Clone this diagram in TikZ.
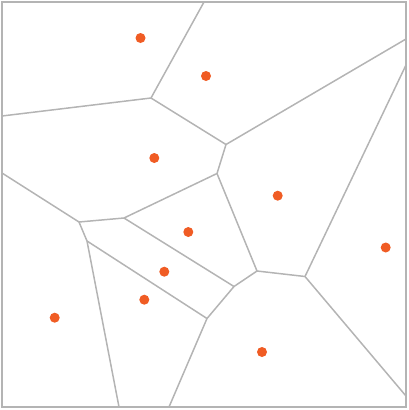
\documentclass[tikz,border=0pt]{standalone}
\definecolor{siteorange}{RGB}{240,92,36}
\definecolor{edgegray}{RGB}{180,180,180}
\begin{document}
\begin{tikzpicture}[x=1pt,y=-1pt,
  edge/.style={draw=edgegray,line width=1.5pt,line join=round},
  frame/.style={draw=edgegray,line width=2pt},
  site/.style={circle,fill=siteorange,inner sep=0pt,minimum size=10pt}]
\useasboundingbox (0,0) rectangle (408,410);
% frame corners
\coordinate (TL) at (2,2); \coordinate (BR) at (406,407);
% Voronoi vertices
\coordinate (V1) at (151,98);
\coordinate (V2) at (226,144.5);
\coordinate (V3) at (217,173.5);
\coordinate (V4) at (124,218);
\coordinate (V5) at (79,222);
\coordinate (V6) at (87,241);
\coordinate (V7) at (207,318.5);
\coordinate (V8) at (234,286.5);
\coordinate (V9) at (257,271);
\coordinate (V10) at (305,276.5);
% border endpoints
\coordinate (T1) at (204,2);
\coordinate (L1) at (2,116);
\coordinate (L2) at (2,173);
\coordinate (R1) at (406,39);
\coordinate (R2) at (406,65);
\coordinate (R3) at (406,396);
\coordinate (B1) at (119,407);
\coordinate (B2) at (169,407);
% edges
\draw[edge] (T1) -- (V1) -- (L1);
\draw[edge] (V1) -- (V2) -- (R1);
\draw[edge] (V2) -- (V3) -- (V4) -- (V5) -- (L2);
\draw[edge] (V5) -- (V6) -- (B1);
\draw[edge] (V6) -- (V7) -- (B2);
\draw[edge] (V4) -- (V8) -- (V7);
\draw[edge] (V3) -- (V9) -- (V8);
\draw[edge] (V9) -- (V10) -- (R2);
\draw[edge] (V10) -- (R3);
\draw[frame] (TL) rectangle (BR);
% sites
\node[site] (s1) at (140.5,38) {};
\node[site] (s2) at (206,76) {};
\node[site] (s3) at (154.3,158) {};
\node[site] (s4) at (277.7,195.7) {};
\node[site] (s5) at (385.7,247.5) {};
\node[site] (s6) at (188.3,232) {};
\node[site] (s7) at (164.3,271.7) {};
\node[site] (s8) at (144.3,299.7) {};
\node[site] (s9) at (54.7,317.7) {};
\node[site] (s10) at (262,352) {};
\end{tikzpicture}
\end{document}
